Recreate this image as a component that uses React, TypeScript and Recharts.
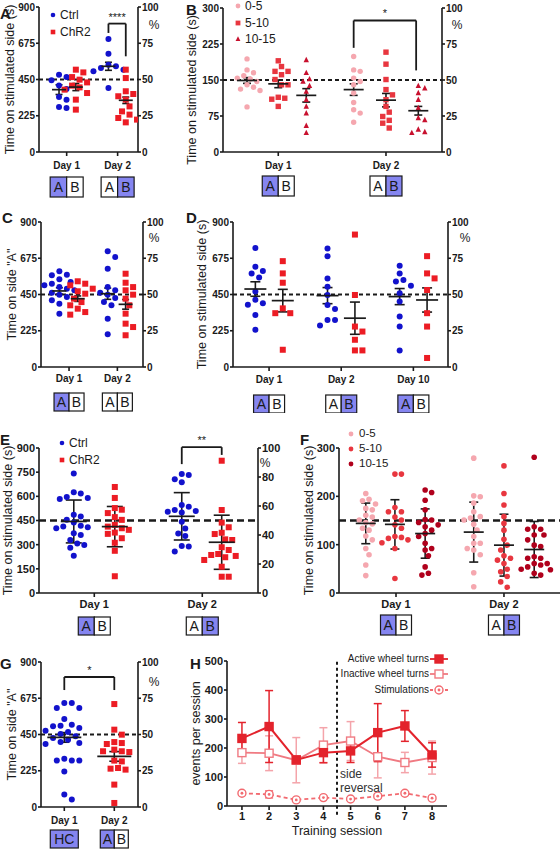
import React from 'react';
import {
  ScatterChart, Scatter, ComposedChart, Line, XAxis, YAxis, ReferenceLine, ReferenceDot, ErrorBar,
} from 'recharts';

const FONT = '"Liberation Sans", Arial, Helvetica, sans-serif';
const INK = '#1a1a1a';
const BLUE = '#1212cc';
const RED = '#ec1c24';
const PINK = '#f5a7af';
const MID = '#e8363f';
const TRI = '#c8102e';
const DARK = '#b0001c';
const LAV = '#8585f0';

// shared ticks / labels
const timeTicks = [0, 225, 450, 675, 900];
const pctTicks = [0, 25, 50, 75, 100];
const dayLabels = ['Day 1', 'Day 2'];
const dayLabels3 = ['Day 1', 'Day 2', 'Day 10'];
const groupKeys = ['Ctrl', 'ChR2'];
const binKeys = ['0-5', '5-10', '10-15'];
const chance = 50; // % on the right-hand axis

// A
const aCtrlDay1 = [480, 465, 445, 412, 391, 341, 325, 279, 273];
const aChrDay1 = [511, 494, 465, 449, 432, 412, 401, 387, 366, 325, 263];
const aCtrlDay2 = [701, 610, 542, 532, 521, 511, 501, 397];
const aChrDay2 = [511, 459, 377, 360, 346, 325, 283, 252, 232, 211, 201, 184];
const aMean = [387, 403, 532, 321];
const aSem = [30, 22, 25, 20];

// B
const bTicks = [0, 75, 150, 225, 300];
const b05Day1 = [194, 171, 165, 159, 154, 152, 147, 140, 135, 131, 128, 94];
const b510Day1 = [190, 178, 168, 168, 161, 151, 140, 140, 114, 112, 110, 95];
const b1015Day1 = [192, 165, 152, 147, 138, 126, 109, 95, 81, 55, 40];
const b05Day2 = [199, 171, 168, 154, 147, 140, 123, 103, 88, 81, 62];
const b510Day2 = [208, 183, 151, 130, 119, 109, 95, 83, 74, 66, 60, 50];
const b1015Day2 = [138, 133, 123, 109, 92, 71, 67, 47, 42, 40];
const bMean = [149, 142, 118, 130, 108, 86];
const bSem = [6, 8, 14, 12, 14, 9];

// C
const cCtrlDay1 = [594, 573, 569, 544, 527, 517, 507, 496, 486, 476, 461, 449, 435, 414, 393, 331];
const cChrDay1 = [532, 517, 507, 486, 470, 455, 424, 403, 383, 362, 341, 325];
const cCtrlDay2 = [718, 683, 610, 496, 476, 461, 449, 428, 403, 383, 300, 203];
const cChrDay2 = [579, 523, 496, 476, 449, 424, 383, 331, 269, 248, 197];
const cMean = [472, 424, 455, 389];
const cSem = [20, 17, 35, 30];

// D
const dCtrlDay1 = [739, 622, 596, 581, 555, 468, 417, 396, 386, 323, 231];
const dChrDay1 = [657, 581, 523, 364, 334, 334, 107];
const dCtrlDay2 = [735, 688, 550, 498, 447, 385, 360, 292, 292, 257];
const dChrDay2 = [822, 447, 251, 220, 169, 103, 103];
const dCtrlDay10 = [628, 581, 540, 530, 505, 457, 406, 313, 251, 103];
const dChrDay10 = [688, 581, 550, 478, 334, 251, 56];
const dMean = [484, 412, 443, 303, 437, 416];
const dSem = [45, 70, 50, 100, 50, 75];

// E
const eTicks = [0, 150, 300, 450, 600, 750, 900];
const ePct = [0, 20, 40, 60, 80, 100];
const eCtrlDay1 = [742, 625, 617, 596, 590, 583, 485, 475, 454, 437, 417, 412, 408, 402, 371, 360, 329, 308, 298, 281, 231];
const eChrDay1 = [658, 590, 527, 517, 496, 471, 454, 423, 412, 402, 392, 375, 367, 340, 312, 262, 104];
const eCtrlDay2 = [739, 732, 706, 687, 546, 536, 515, 509, 505, 499, 443, 401, 370, 354, 292, 288, 257];
const eChrDay2 = [821, 515, 437, 408, 374, 366, 333, 329, 284, 267, 242, 236, 230, 222, 205, 163, 101, 101];
const eMean = [444, 412, 476, 315];
const eSd = [133, 125, 147, 168];

// F
const fTicks = [0, 100, 200, 300];
const f05Day1 = [206, 194, 191, 184, 175, 172, 161, 157, 151, 146, 143, 134, 130, 118, 110, 92, 79, 58, 36];
const f510Day1 = [246, 246, 177, 168, 168, 157, 151, 141, 134, 117, 115, 113, 110, 104, 92, 30];
const f1015Day1 = [213, 208, 192, 172, 152, 151, 146, 141, 137, 130, 123, 117, 103, 92, 89, 77, 54, 41, 37];
const f05Day2 = [279, 201, 199, 186, 168, 158, 155, 151, 142, 130, 117, 103, 103, 92, 89, 79, 42, 13];
const f510Day2 = [263, 206, 182, 158, 144, 130, 111, 99, 89, 77, 72, 68, 61, 49, 44, 34, 23, 12];
const f1015Day2 = [281, 137, 132, 132, 120, 120, 110, 99, 96, 75, 72, 72, 61, 61, 58, 54, 49, 48, 41, 37];
const fMean = [144, 142, 123, 126, 99, 90];
const fSd = [42, 51, 51, 62, 64, 58];

// G
const gCtrlDay1 = [646, 646, 615, 615, 546, 511, 505, 501, 490, 474, 466, 453, 439, 428, 418, 403, 397, 391, 300, 288, 288, 288, 221, 77, 46];
const gChrDay2 = [639, 480, 449, 403, 397, 391, 356, 346, 346, 341, 288, 283, 242, 238, 232, 139, 25];
const gMean = [432, 314];
const gSem = [30, 30];

// H
const hSessions = [1, 2, 3, 4, 5, 6, 7, 8];
const hTicks = [0, 100, 200, 300, 400, 500];
const hActive = [233, 274, 159, 184, 190, 253, 276, 176];
const hActiveErr = [55, 124, 12, 35, 40, 100, 53, 42];
const hInactive = [184, 182, 158, 210, 224, 170, 150, 167];
const hInactiveErr = [37, 60, 78, 60, 67, 73, 35, 57];
const hStim = [44, 40, 21, 29, 24, 34, 44, 27];
const hStimErr = [6, 12, 4, 4, 4, 6, 5, 4];
const hKeys = ['Active wheel turns', 'Inactive wheel turns', 'Stimulations'];

const AB_L = { cells: ['A', 'B'], on: [true, false] };
const AB_R = { cells: ['A', 'B'], on: [false, true] };
const AB_N = { cells: ['A', 'B'], on: [false, false] };
const HC = { cells: ['HC'], on: [true] };

const axisStyle = { stroke: INK, strokeWidth: 1.6 };
const titleStyle = { textAnchor: 'middle', fontSize: 12.5, fill: INK, fontFamily: FONT } as any;
const tickFont = (fs: number) => ({ fontSize: fs, fontWeight: 700, fill: INK, fontFamily: FONT });

// simple bee-swarm so equal-ish values sit side by side
function swarm(vals: number[], at: number, kx: number, ky: number, gap: number) {
  const placed: { dx: number; py: number }[] = [];
  return vals.map((v) => {
    const py = v * ky;
    let dx = 0;
    for (let k = 0; k < 60; k++) {
      const c = (k % 2 ? 1 : -1) * Math.ceil(k / 2) * gap * 0.5;
      if (placed.every((p) => Math.hypot(p.dx - c, p.py - py) >= gap)) { dx = c; break; }
    }
    placed.push({ dx, py });
    return { x: at + dx / kx, y: v };
  });
}

function Mark({ cx, cy, shape, color, r }: any) {
  if (shape === 'square') return <rect x={cx - r} y={cy - r} width={2 * r} height={2 * r} fill={color} />;
  if (shape === 'triangle')
    return <polygon points={`${cx},${cy - r * 1.15} ${cx + r},${cy + r * 0.85} ${cx - r},${cy + r * 0.85}`} fill={color} />;
  return <circle cx={cx} cy={cy} r={r} fill={color} />;
}

function DayTick(props: any) {
  const { x, y, payload, labels, days, boxes, fs, labelDy, boxDy, boxW, boxH } = props;
  const i = days.indexOf(payload.value);
  const b = boxes[i];
  const cw = boxW / b.cells.length;
  const bx = x - boxW / 2;
  return (
    <g>
      <text x={x} y={y + labelDy} textAnchor="middle" fontSize={fs} fontWeight={700} fill={INK} fontFamily={FONT}>
        {labels[i]}
      </text>
      {b.cells.map((c: string, j: number) => (
        <g key={j}>
          <rect x={bx + j * cw} y={y + boxDy} width={cw} height={boxH} fill={b.on[j] ? LAV : '#fff'} stroke={INK} strokeWidth={1.2} />
          <text x={bx + j * cw + cw / 2} y={y + boxDy + boxH / 2 + 5} textAnchor="middle" fontSize={14} fill={INK} fontFamily={FONT}>
            {c}
          </text>
        </g>
      ))}
    </g>
  );
}

function Key({ items, x, tx, ys, fs }: any) {
  return (
    <>
      {items.map((it: any, i: number) => (
        <React.Fragment key={i}>
          <svg style={{ position: 'absolute', left: x - 5, top: ys[i] - 5 }} width={10} height={10}>
            <Mark cx={5} cy={5} shape={it.shape} color={it.color} r={it.r} />
          </svg>
          <span style={{ position: 'absolute', left: tx, top: ys[i], transform: 'translateY(-50%)', fontSize: fs, lineHeight: 1, whiteSpace: 'nowrap' }}>
            {it.label}
          </span>
        </React.Fragment>
      ))}
    </>
  );
}

function DotPanel(p: any) {
  const [pl, pt, pr, pb] = p.plot;
  const rightW = p.pctTicks ? p.rightW ?? 30 : 0;
  const xH = p.top + p.height - pb - 3;
  const margin = { top: pt - p.top, left: 0, right: p.left + p.width - pr - rightW, bottom: 3 };
  const kx = (pr - pl) / (p.xDomain[1] - p.xDomain[0]);
  const ky = (pb - pt) / (p.yDomain[1] - p.yDomain[0]);
  const means = p.groups.map((g: any) => ({ x: g.at, y: g.mean, err: g.err }));
  const b = p.bracket;
  const brStyle = { stroke: INK, strokeWidth: 1.8, ifOverflow: 'visible' as const, yAxisId: 'l' };
  return (
    <div style={{ position: 'absolute', left: p.left, top: p.top }}>
      <ScatterChart width={p.width} height={p.height} margin={margin}>
        <XAxis
          dataKey="x" type="number" domain={p.xDomain} ticks={p.days} interval={0} allowDataOverflow
          height={xH} tickSize={4} axisLine={axisStyle} tickLine={axisStyle}
          tick={(t: any) => (
            <DayTick {...t} labels={p.dayLabels} days={p.days} boxes={p.boxes} fs={p.dayFs}
              labelDy={p.labelDy} boxDy={p.boxDy} boxW={p.boxW} boxH={p.boxH} />
          )}
        />
        <YAxis
          yAxisId="l" dataKey="y" type="number" domain={p.yDomain} ticks={p.yTicks} interval={0} allowDataOverflow
          width={pl - p.left} tickSize={3} tickMargin={1} axisLine={axisStyle} tickLine={axisStyle} tick={tickFont(p.fs)}
          label={{ value: p.title, angle: -90, position: 'insideLeft', offset: p.titleX - p.left, dy: p.titleDy ?? 0, style: titleStyle }}
        />
        {p.pctTicks && (
          <YAxis
            yAxisId="r" dataKey="y" orientation="right" type="number" domain={[0, 100]} ticks={p.pctTicks} interval={0}
            allowDataOverflow width={rightW} tickSize={3} tickMargin={1} axisLine={axisStyle} tickLine={axisStyle} tick={tickFont(p.fs)}
          />
        )}
        {p.pctTicks && (
          <Scatter yAxisId="r" data={[{ x: p.days[0], y: chance }]} isAnimationActive={false} shape={() => <g />} />
        )}
        <ReferenceLine yAxisId="l" y={p.refY} stroke={INK} strokeWidth={p.dashW} strokeDasharray={p.dash} />
        {p.groups.map((g: any, i: number) => (
          <Scatter
            key={i} yAxisId="l" data={swarm(g.vals, g.at, kx, ky, p.gap)} isAnimationActive={false}
            shape={(s: any) => <Mark cx={s.cx} cy={s.cy} shape={g.shape} color={g.color} r={p.r} />}
          />
        ))}
        <Scatter
          yAxisId="l" data={means} isAnimationActive={false}
          shape={(s: any) => (
            <line x1={s.cx - p.meanHalf} x2={s.cx + p.meanHalf} y1={s.cy} y2={s.cy} stroke={INK} strokeWidth={1.7} />
          )}
        >
          <ErrorBar dataKey="err" direction="y" width={p.capHalf} stroke={INK} strokeWidth={1.6} />
        </Scatter>
        {b && <ReferenceLine {...brStyle} segment={[{ x: b.from, y: b.legFrom }, { x: b.from, y: b.top }]} />}
        {b && (
          <ReferenceLine
            {...brStyle} segment={[{ x: b.from, y: b.top }, { x: b.to, y: b.top }]}
            label={{ value: b.label, position: 'top', offset: 3, style: { fontSize: 11, fill: INK, fontFamily: FONT } }}
          />
        )}
        {b && <ReferenceLine {...brStyle} segment={[{ x: b.to, y: b.top }, { x: b.to, y: b.legTo }]} />}
      </ScatterChart>
    </div>
  );
}

const letterStyle = (left: number, top: number): React.CSSProperties => ({
  position: 'absolute', left, top, fontSize: 15, fontWeight: 700, lineHeight: 1,
});
const pctStyle = (x: number, y: number): React.CSSProperties => ({
  position: 'absolute', left: x, top: y, transform: 'translate(-50%, -50%)', fontSize: 12, lineHeight: 1,
});

function SquareDot({ cx, cy, fill, open, color }: any) {
  return <rect x={cx - 4} y={cy - 4} width={8} height={8} fill={open ? '#fff' : fill} stroke={color} strokeWidth={1.4} />;
}
function StimDot({ cx, cy, color }: any) {
  return (
    <g>
      <circle cx={cx} cy={cy} r={4} fill="#fff" stroke={color} strokeWidth={1.4} />
      <circle cx={cx} cy={cy} r={1.4} fill={color} />
    </g>
  );
}

const ACT = '#e3232c';
const INACT = '#f07a82';
const INACT_ERR = '#f4a4aa';
const STIM = '#f26a70';

function PanelH() {
  const rows = hSessions.map((s, i) => ({
    s, active: hActive[i], activeErr: hActiveErr[i], inactive: hInactive[i], inactiveErr: hInactiveErr[i],
    stim: hStim[i], stimErr: hStimErr[i],
  }));
  const keyRows = [659, 674, 690];
  const keyMarks = [
    <SquareDot cx={9} cy={5} fill={ACT} color={ACT} />,
    <SquareDot cx={9} cy={5} open color={INACT} />,
    <StimDot cx={9} cy={5} color={STIM} />,
  ];
  const keyLines = [ACT, INACT, STIM];
  const noteStyle = { fontSize: 12, fill: '#333', fontFamily: FONT };
  return (
    <>
      <div style={{ position: 'absolute', left: 190, top: 655 }}>
        <ComposedChart width={370} height={197} data={rows} margin={{ top: 6, right: 113, bottom: 3, left: 0 }}>
          <XAxis
            dataKey="s" type="number" domain={[0.45, 8.55]} ticks={hSessions} interval={0} allowDataOverflow
            height={43} tickSize={4} axisLine={axisStyle} tickLine={axisStyle} tick={tickFont(11)}
            label={{ value: 'Training session', position: 'insideBottom', offset: 14, style: titleStyle }}
          />
          <YAxis
            type="number" domain={[0, 500]} ticks={hTicks} interval={0} allowDataOverflow width={37} tickSize={3} tickMargin={1}
            axisLine={axisStyle} tickLine={axisStyle} tick={tickFont(11)}
            label={{ value: 'events per session', angle: -90, position: 'insideLeft', offset: 6, style: titleStyle }}
          />
          <ReferenceLine
            segment={[{ x: 4.5, y: -30 }, { x: 4.5, y: 505 }]} ifOverflow="visible"
            stroke={INK} strokeWidth={2} strokeDasharray="3 3"
          />
          <ReferenceDot x={4.5} y={112} r={0} ifOverflow="visible"
            label={{ value: 'side', position: 'right', offset: 3, style: noteStyle }} />
          <ReferenceDot x={4.5} y={62} r={0} ifOverflow="visible"
            label={{ value: 'reversal', position: 'right', offset: 3, style: noteStyle }} />
          <Line
            dataKey="inactive" stroke={INACT} strokeWidth={1.8} isAnimationActive={false} activeDot={false}
            dot={(d: any) => <SquareDot key={d.index} cx={d.cx} cy={d.cy} open color={INACT} />}
          >
            <ErrorBar dataKey="inactiveErr" direction="y" width={4} stroke={INACT_ERR} strokeWidth={1.5} />
          </Line>
          <Line
            dataKey="active" stroke={ACT} strokeWidth={2} isAnimationActive={false} activeDot={false}
            dot={(d: any) => <SquareDot key={d.index} cx={d.cx} cy={d.cy} fill={ACT} color={ACT} />}
          >
            <ErrorBar dataKey="activeErr" direction="y" width={4} stroke={ACT} strokeWidth={1.5} />
          </Line>
          <Line
            dataKey="stim" stroke={STIM} strokeWidth={1.8} strokeDasharray="4 3" isAnimationActive={false} activeDot={false}
            dot={(d: any) => <StimDot key={d.index} cx={d.cx} cy={d.cy} color={STIM} />}
          >
            <ErrorBar dataKey="stimErr" direction="y" width={4} stroke={STIM} strokeWidth={1.5} />
          </Line>
        </ComposedChart>
      </div>
      {hKeys.map((k, i) => (
        <React.Fragment key={k}>
          <span style={{ position: 'absolute', right: 131, top: keyRows[i], transform: 'translateY(-50%)', fontSize: 10, lineHeight: 1, whiteSpace: 'nowrap' }}>
            {k}
          </span>
          <svg style={{ position: 'absolute', left: 430, top: keyRows[i] - 5 }} width={18} height={10}>
            <line x1={0} x2={18} y1={5} y2={5} stroke={keyLines[i]} strokeWidth={1.8} strokeDasharray={i === 2 ? '3 2' : undefined} />
            {keyMarks[i]}
          </svg>
        </React.Fragment>
      ))}
    </>
  );
}

export default function App() {
  return (
    <div style={{ position: 'absolute', left: 0, top: 0, width: 560, height: 852, background: '#fff', fontFamily: FONT, color: INK, overflow: 'hidden' }}>
      <DotPanel
        left={0} top={0} width={175} height={205} plot={[39, 7, 138, 152]}
        xDomain={[0.457, 2.4]} days={[1, 2]} dayLabels={dayLabels} boxes={[AB_L, AB_R]}
        yDomain={[0, 900]} yTicks={timeTicks} pctTicks={pctTicks}
        groups={[
          { vals: aCtrlDay1, at: 0.85, color: BLUE, shape: 'circle', mean: aMean[0], err: aSem[0] },
          { vals: aChrDay1, at: 1.18, color: RED, shape: 'square', mean: aMean[1], err: aSem[1] },
          { vals: aCtrlDay2, at: 1.82, color: BLUE, shape: 'circle', mean: aMean[2], err: aSem[2] },
          { vals: aChrDay2, at: 2.16, color: RED, shape: 'square', mean: aMean[3], err: aSem[3] },
        ]}
        bracket={{ from: 1.82, to: 2.16, top: 797, legFrom: 739, legTo: 594, label: '****' }}
        refY={450} title="Time on stimulated side (s)" titleX={10}
        fs={10} dayFs={10} r={3} gap={7.5} meanHalf={7} capHalf={3.5}
        labelDy={11} boxDy={19} boxW={33} boxH={20} dash="4 3" dashW={2}
      />
      <DotPanel
        left={180} top={0} width={300} height={205} plot={[223, 8, 442, 152]}
        xDomain={[0.487, 2.52]} days={[1, 2]} dayLabels={dayLabels} boxes={[AB_L, AB_R]}
        yDomain={[0, 300]} yTicks={bTicks} pctTicks={pctTicks}
        groups={[
          { vals: b05Day1, at: 0.71, color: PINK, shape: 'circle', mean: bMean[0], err: bSem[0] },
          { vals: b510Day1, at: 1.0, color: MID, shape: 'square', mean: bMean[1], err: bSem[1] },
          { vals: b1015Day1, at: 1.26, color: TRI, shape: 'triangle', mean: bMean[2], err: bSem[2] },
          { vals: b05Day2, at: 1.7, color: PINK, shape: 'circle', mean: bMean[3], err: bSem[3] },
          { vals: b510Day2, at: 2.0, color: MID, shape: 'square', mean: bMean[4], err: bSem[4] },
          { vals: b1015Day2, at: 2.3, color: TRI, shape: 'triangle', mean: bMean[5], err: bSem[5] },
        ]}
        bracket={{ from: 1.7, to: 2.28, top: 274, legFrom: 217, legTo: 170, label: '*' }}
        refY={150} title="Time on stimulated side (s)" titleX={192} titleDy={10}
        fs={10} dayFs={10} r={2.7} gap={6.5} meanHalf={10} capHalf={4}
        labelDy={11} boxDy={18} boxW={32} boxH={20} dash="4 3" dashW={2}
      />
      <DotPanel
        left={0} top={210} width={180} height={203} plot={[41, 222, 143, 367]}
        xDomain={[0.42, 2.53]} days={[1, 2]} dayLabels={dayLabels} boxes={[AB_L, AB_N]}
        yDomain={[0, 900]} yTicks={timeTicks} pctTicks={pctTicks}
        groups={[
          { vals: cCtrlDay1, at: 0.8, color: BLUE, shape: 'circle', mean: cMean[0], err: cSem[0] },
          { vals: cChrDay1, at: 1.18, color: RED, shape: 'square', mean: cMean[1], err: cSem[1] },
          { vals: cCtrlDay2, at: 1.8, color: BLUE, shape: 'circle', mean: cMean[2], err: cSem[2] },
          { vals: cChrDay2, at: 2.17, color: RED, shape: 'square', mean: cMean[3], err: cSem[3] },
        ]}
        refY={450} title={'Time on side "A"'} titleX={12}
        fs={10} dayFs={10} r={3} gap={7.5} meanHalf={7} capHalf={3.5}
        labelDy={9} boxDy={20} boxW={30} boxH={18} dash="4 3" dashW={2}
      />
      <DotPanel
        left={185} top={210} width={300} height={203} plot={[233, 222, 448, 367]}
        xDomain={[0.5, 3.48]} days={[1, 2, 3]} dayLabels={dayLabels3} boxes={[AB_L, AB_R, AB_L]}
        yDomain={[0, 900]} yTicks={timeTicks} pctTicks={pctTicks}
        groups={[
          { vals: dCtrlDay1, at: 0.81, color: BLUE, shape: 'circle', mean: dMean[0], err: dSem[0] },
          { vals: dChrDay1, at: 1.19, color: RED, shape: 'square', mean: dMean[1], err: dSem[1] },
          { vals: dCtrlDay2, at: 1.81, color: BLUE, shape: 'circle', mean: dMean[2], err: dSem[2] },
          { vals: dChrDay2, at: 2.19, color: RED, shape: 'square', mean: dMean[3], err: dSem[3] },
          { vals: dCtrlDay10, at: 2.81, color: BLUE, shape: 'circle', mean: dMean[4], err: dSem[4] },
          { vals: dChrDay10, at: 3.19, color: RED, shape: 'square', mean: dMean[5], err: dSem[5] },
        ]}
        refY={450} title="Time on stimulated side (s)" titleX={202}
        fs={10} dayFs={10} r={3} gap={7.5} meanHalf={11} capHalf={5}
        labelDy={10} boxDy={22} boxW={31} boxH={18} dash="4 3" dashW={2}
      />
      <DotPanel
        left={0} top={430} width={290} height={215} plot={[39, 448, 258, 593]} rightW={28}
        xDomain={[0.488, 2.516]} days={[1, 2]} dayLabels={dayLabels} boxes={[AB_L, AB_R]}
        yDomain={[0, 900]} yTicks={eTicks} pctTicks={ePct}
        groups={[
          { vals: eCtrlDay1, at: 0.81, color: BLUE, shape: 'circle', mean: eMean[0], err: eSd[0] },
          { vals: eChrDay1, at: 1.19, color: RED, shape: 'square', mean: eMean[1], err: eSd[1] },
          { vals: eCtrlDay2, at: 1.81, color: BLUE, shape: 'circle', mean: eMean[2], err: eSd[2] },
          { vals: eChrDay2, at: 2.18, color: RED, shape: 'square', mean: eMean[3], err: eSd[3] },
        ]}
        bracket={{ from: 1.81, to: 2.18, top: 905, legFrom: 800, legTo: 857, label: '**' }}
        refY={450} title="Time on stimulated side (s)" titleX={8}
        fs={11} dayFs={11} r={3} gap={7} meanHalf={13} capHalf={8}
        labelDy={9} boxDy={18} boxW={32} boxH={18} dash="7 4" dashW={2.6}
      />
      <DotPanel
        left={280} top={430} width={280} height={215} plot={[339, 448, 560, 593]}
        xDomain={[0.472, 2.519]} days={[1, 2]} dayLabels={dayLabels} boxes={[AB_L, AB_R]}
        yDomain={[0, 300]} yTicks={fTicks}
        groups={[
          { vals: f05Day1, at: 0.72, color: PINK, shape: 'circle', mean: fMean[0], err: fSd[0] },
          { vals: f510Day1, at: 0.99, color: MID, shape: 'circle', mean: fMean[1], err: fSd[1] },
          { vals: f1015Day1, at: 1.27, color: DARK, shape: 'circle', mean: fMean[2], err: fSd[2] },
          { vals: f05Day2, at: 1.72, color: PINK, shape: 'circle', mean: fMean[3], err: fSd[3] },
          { vals: f510Day2, at: 2.0, color: MID, shape: 'circle', mean: fMean[4], err: fSd[4] },
          { vals: f1015Day2, at: 2.28, color: DARK, shape: 'circle', mean: fMean[5], err: fSd[5] },
        ]}
        refY={150} title="Time on stimulated side (s)" titleX={309}
        fs={11} dayFs={11} r={2.8} gap={6.5} meanHalf={10} capHalf={4.5}
        labelDy={9} boxDy={16} boxW={31} boxH={20} dash="7 4" dashW={2.6}
      />
      <DotPanel
        left={0} top={655} width={180} height={197} plot={[41, 662, 138, 807]}
        xDomain={[0.534, 2.474]} days={[1, 2]} dayLabels={dayLabels} boxes={[HC, AB_L]}
        yDomain={[0, 900]} yTicks={timeTicks} pctTicks={pctTicks}
        groups={[
          { vals: gCtrlDay1, at: 1, color: BLUE, shape: 'circle', mean: gMean[0], err: gSem[0] },
          { vals: gChrDay2, at: 2, color: RED, shape: 'square', mean: gMean[1], err: gSem[1] },
        ]}
        bracket={{ from: 1, to: 2, top: 807, legFrom: 726, legTo: 726, label: '*' }}
        refY={450} title={'Time on side "A"'} titleX={12}
        fs={10} dayFs={10} r={3} gap={7.5} meanHalf={17} capHalf={5}
        labelDy={11} boxDy={17} boxW={28} boxH={18} dash="4 3" dashW={2}
      />
      <PanelH />

      <Key items={[{ label: groupKeys[0], shape: 'circle', color: BLUE, r: 2.3 }, { label: groupKeys[1], shape: 'square', color: RED, r: 2.3 }]}
        x={53} tx={60} ys={[15, 32]} fs={12} />
      <Key items={[{ label: binKeys[0], shape: 'circle', color: PINK, r: 2.4 }, { label: binKeys[1], shape: 'square', color: MID, r: 2.4 }, { label: binKeys[2], shape: 'triangle', color: TRI, r: 2.4 }]}
        x={238} tx={245} ys={[6, 23, 39]} fs={12} />
      <Key items={[{ label: groupKeys[0], shape: 'circle', color: BLUE, r: 2.3 }, { label: groupKeys[1], shape: 'square', color: RED, r: 2.3 }]}
        x={62} tx={69} ys={[443, 460]} fs={12} />
      <Key items={[{ label: binKeys[0], shape: 'circle', color: PINK, r: 2.4 }, { label: binKeys[1], shape: 'circle', color: MID, r: 2.4 }, { label: binKeys[2], shape: 'circle', color: DARK, r: 2.4 }]}
        x={351} tx={359} ys={[434, 449, 464]} fs={11.5} />

      <div style={pctStyle(154, 25)}>%</div>
      <div style={pctStyle(457, 25)}>%</div>
      <div style={pctStyle(154, 238)}>%</div>
      <div style={pctStyle(465, 238)}>%</div>
      <div style={pctStyle(265, 463)}>%</div>
      <div style={pctStyle(154, 682)}>%</div>

      <div style={letterStyle(0, 6)}>A</div>
      <div style={letterStyle(186, 2)}>B</div>
      <div style={letterStyle(2, 210)}>C</div>
      <div style={letterStyle(186, 210)}>D</div>
      <div style={letterStyle(0, 432)}>E</div>
      <div style={letterStyle(300, 432)}>F</div>
      <div style={letterStyle(0, 656)}>G</div>
      <div style={letterStyle(190, 656)}>H</div>
    </div>
  );
}
